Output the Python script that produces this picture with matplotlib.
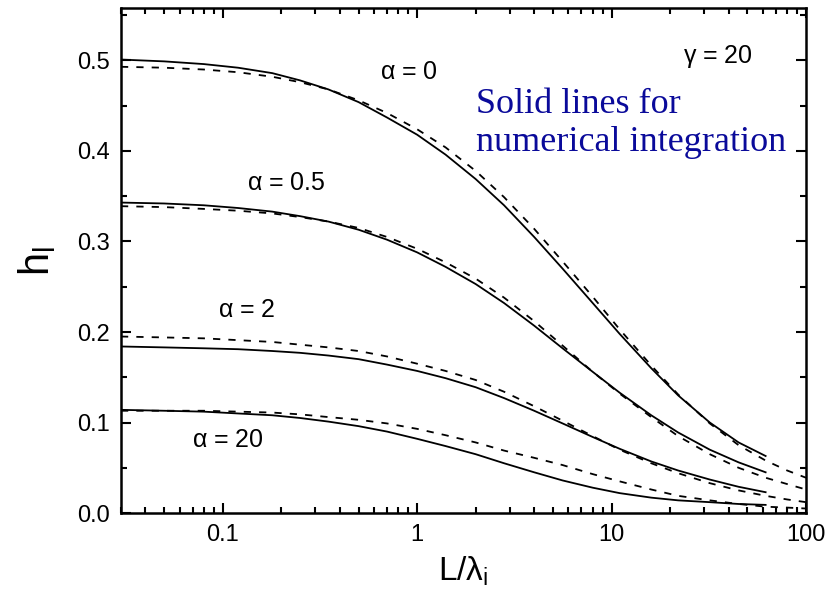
import matplotlib
matplotlib.use("Agg")
import matplotlib.pyplot as plt
import numpy as np

plt.rcParams['font.family'] = ['Liberation Sans', 'DejaVu Sans']
plt.rcParams['mathtext.fontset'] = 'custom'
plt.rcParams['mathtext.rm'] = 'Liberation Sans'
plt.rcParams['mathtext.it'] = 'Liberation Sans'

# solid lines: numerical integration
x_solid = [0.03, 0.05, 0.08, 0.12, 0.18, 0.25, 0.35, 0.5, 0.7, 1.0, 1.4, 2.0, 2.8, 4.0, 5.6, 8.0, 11.0, 16.0, 22.0, 32.0, 45.0, 62.0]
h_a0_solid = [0.501, 0.499, 0.496, 0.492, 0.486, 0.478, 0.468, 0.454, 0.437, 0.418, 0.396, 0.369, 0.340, 0.305, 0.270, 0.232, 0.198, 0.160, 0.130, 0.100, 0.078, 0.063]
h_a05_solid = [0.343, 0.342, 0.340, 0.337, 0.333, 0.328, 0.322, 0.313, 0.302, 0.288, 0.272, 0.253, 0.232, 0.207, 0.182, 0.156, 0.133, 0.108, 0.089, 0.070, 0.056, 0.045]
h_a2_solid = [0.184, 0.183, 0.182, 0.181, 0.179, 0.177, 0.174, 0.170, 0.164, 0.157, 0.149, 0.139, 0.127, 0.113, 0.099, 0.084, 0.071, 0.057, 0.047, 0.037, 0.029, 0.023]
h_a20_solid = [0.114, 0.113, 0.112, 0.110, 0.108, 0.105, 0.101, 0.096, 0.090, 0.082, 0.074, 0.065, 0.055, 0.045, 0.036, 0.028, 0.022, 0.017, 0.014, 0.012, 0.010, 0.009]

# dashed lines: approximation
x_dash = [0.03, 0.05, 0.08, 0.12, 0.18, 0.25, 0.35, 0.5, 0.7, 1.0, 1.4, 2.0, 2.8, 4.0, 5.6, 8.0, 11.0, 16.0, 22.0, 32.0, 45.0, 62.0, 80.0, 100.0]
h_a0_dash = [0.493, 0.492, 0.490, 0.487, 0.482, 0.476, 0.468, 0.456, 0.442, 0.424, 0.404, 0.378, 0.349, 0.314, 0.278, 0.239, 0.203, 0.163, 0.131, 0.099, 0.075, 0.058, 0.047, 0.039]
h_a05_dash = [0.339, 0.338, 0.336, 0.334, 0.331, 0.327, 0.322, 0.315, 0.305, 0.292, 0.277, 0.259, 0.238, 0.212, 0.185, 0.156, 0.132, 0.106, 0.085, 0.065, 0.050, 0.039, 0.032, 0.026]
h_a2_dash = [0.195, 0.194, 0.193, 0.191, 0.189, 0.186, 0.183, 0.179, 0.173, 0.165, 0.157, 0.147, 0.134, 0.118, 0.102, 0.085, 0.070, 0.055, 0.044, 0.033, 0.025, 0.019, 0.015, 0.012]
h_a20_dash = [0.113, 0.113, 0.113, 0.112, 0.111, 0.109, 0.106, 0.103, 0.099, 0.093, 0.086, 0.078, 0.069, 0.061, 0.053, 0.043, 0.035, 0.026, 0.019, 0.014, 0.010, 0.007, 0.006, 0.005]

labels = [r'$\alpha$ = 0', r'$\alpha$ = 0.5', r'$\alpha$ = 2', r'$\alpha$ = 20']
label_pos = [(0.91, 0.487), (0.213, 0.365), (0.133, 0.2245), (0.106, 0.081)]

fig = plt.figure(figsize=(8.27, 6.08), dpi=100)
ax = fig.add_axes([0.1463, 0.1562, 0.8283, 0.8301])

for hs in [h_a0_solid, h_a05_solid, h_a2_solid, h_a20_solid]:
    ax.plot(x_solid, hs, color='black', lw=1.3, ls='-')
for hd in [h_a0_dash, h_a05_dash, h_a2_dash, h_a20_dash]:
    ax.plot(x_dash, hd, color='black', lw=1.3, ls=(0, (4, 4.5)))

for lab, (lx, ly) in zip(labels, label_pos):
    ax.text(lx, ly, lab, ha='center', va='center', fontsize=18)

ax.text(35.4, 0.504, r'$\gamma$ = 20', ha='center', va='center', fontsize=18)
ax.text(2.0, 0.430, 'Solid lines for\nnumerical integration', ha='left', va='center',
        fontsize=26, color='#0a0a9a', family='Liberation Serif', linespacing=1.2)

ax.set_xscale('log')
ax.set_xlim(0.03, 100)
ax.set_ylim(0, 0.5576)
ax.set_xticks([0.1, 1, 10, 100])
ax.set_xticklabels(['0.1', '1', '10', '100'])
ax.set_yticks([0.0, 0.1, 0.2, 0.3, 0.4, 0.5])
ax.set_yticklabels(['0.0', '0.1', '0.2', '0.3', '0.4', '0.5'])
ax.set_yticks(np.arange(0.05, 0.56, 0.1), minor=True)

ax.tick_params(which='both', direction='in', top=True, right=True, labelsize=17, width=1.5)
ax.tick_params(which='major', length=7, pad=8)
ax.tick_params(which='minor', length=4)
for sp in ax.spines.values():
    sp.set_linewidth(1.8)

ax.set_xlabel(r'L/$\lambda_\mathregular{i}$', fontsize=24, labelpad=6)
ax.set_ylabel(r'h$_\mathregular{l}$', fontsize=30, labelpad=14)

fig.savefig('out.png', dpi=100)
